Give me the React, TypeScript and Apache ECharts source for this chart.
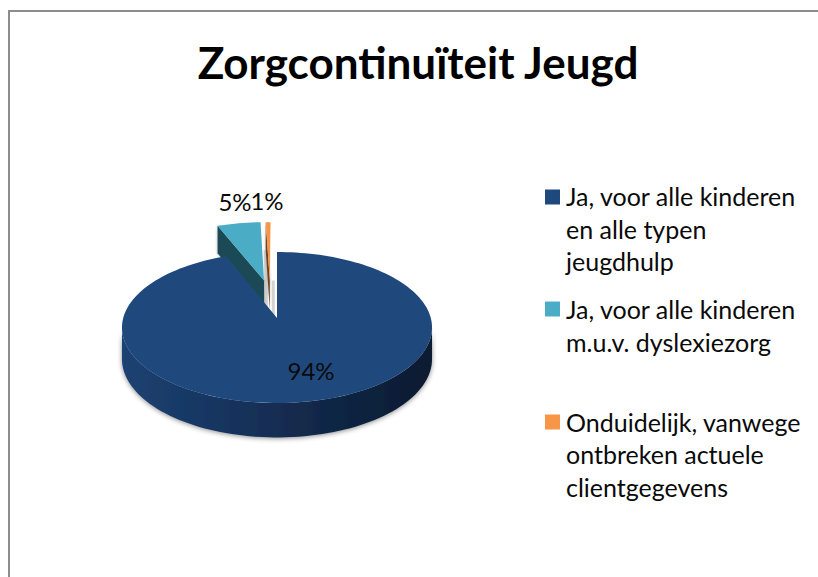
import React, { useEffect, useRef } from "react";
import * as echarts from "echarts";

const titleText = "Zorgcontinuïteit Jeugd";
const categories = [
  ["Ja, voor alle kinderen", "en alle typen", "jeugdhulp"],
  ["Ja, voor alle kinderen", "m.u.v. dyslexiezorg"],
  ["Onduidelijk, vanwege", "ontbreken actuele", "clientgegevens"],
];
const sliceValues = [94, 5.4, 0.6];
const topColors = ["#1F497D", "#4BACC6", "#F79646"];
const faceColors = ["#12294a", "#1F4A57", "#6a4324"];

const FONT = "Lato, Carlito, Calibri, sans-serif";
const CX = 277, AY = 318, BX = 153.8, AYS = 74.3, K = 0.126;
const OFFSETS = [[0, 0], [-0.09, 0.54], [-0.05, 0.54]];
const LABEL_POS = [[311, 370], [235, 201], [267, 200]];
const LEGEND_SWATCH_Y = [189.5, 301.5, 414.5];
const LEGEND_LINE_Y = [[196, 229, 261], [309, 342], [422, 454, 487]];

function project(u: number, v: number, down: number): number[] {
  const w = 1 + K * v;
  const q = v / w;
  return [CX + (BX * u) / w, AY - AYS * q + (down ? 31 - 3 * q : 0)];
}
function rim(deg: number, off: number[], down: number) {
  const t = (deg * Math.PI) / 180;
  return project(Math.sin(t) + off[0], Math.cos(t) + off[1], down);
}
function arc(a: number, b: number, off: number[], down: number) {
  const pts: number[][] = [];
  const n = Math.max(2, Math.ceil(Math.abs(b - a) / 2));
  for (let i = 0; i <= n; i++) pts.push(rim(a + ((b - a) * i) / n, off, down));
  return pts;
}

function renderSlice(params: any, api: any) {
  const i = params.dataIndex;
  const total = sliceValues.reduce((s, x) => s + x, 0);
  let start = 0;
  for (let j = 0; j < i; j++) start += (sliceValues[j] / total) * 360;
  const end = start + (api.value(0) / total) * 360;
  const off = OFFSETS[i];
  const apex = project(off[0], off[1], 0);
  const apexD = project(off[0], off[1], 1);
  const children: any[] = [];
  const z2 = i === 0 ? 10 : 3 - i;
  if (i === 0) {
    const tangentA = 97.2, tangentB = 262.8;
    const top = arc(tangentA, tangentB, off, 0);
    const bot = arc(tangentA, tangentB, off, 1).reverse();
    children.push({
      type: "polygon",
      z2: z2,
      shape: { points: top.concat(bot) },
      style: {
        fill: new echarts.graphic.LinearGradient(0, 0, 1, 0, [
          { offset: 0, color: "#1C4272" },
          { offset: 0.3, color: "#173560" },
          { offset: 0.6, color: "#12294A" },
          { offset: 1, color: "#0A1A30" },
        ]),
        shadowBlur: 5,
        shadowColor: "rgba(0,0,0,0.45)",
        shadowOffsetY: 1,
      },
    });
  } else {
    const outer = rim(start, off, 0);
    const outerD = rim(start, off, 1);
    if (i === 2) {
      // soft grey shading seen either side of the thin exploded slice
      children.push({
        type: "polygon",
        z2: 0,
        shape: {
          points: [
            [outer[0] - 2, outer[1] + 28],
            [outer[0] + 2, outer[1] + 28],
            [apexD[0] - 2, apexD[1] + 8],
            [apexD[0] - 6, apexD[1] + 8],
          ],
        },
        style: { fill: "#d4d4d4" },
      });
      children.push({
        type: "polygon",
        z2: 0,
        shape: {
          points: [
            [apex[0] + 2, apex[1]],
            [apex[0] + 5, apex[1]],
            [apexD[0] + 5, apexD[1] + 8],
            [apexD[0] + 2, apexD[1] + 8],
          ],
        },
        style: { fill: "#d4d4d4" },
      });
    }
    children.push({
      type: "polygon",
      z2: z2,
      shape: { points: [outer, apex, apexD, outerD] },
      style: {
        fill: faceColors[i],
        shadowBlur: 3,
        shadowColor: "rgba(0,0,0,0.3)",
      },
    });
  }
  children.push({
    type: "polygon",
    z2: z2 + 1,
    shape: { points: [apex].concat(arc(start, end, off, 0)) },
    style: { fill: topColors[i] },
  });
  children.push({
    type: "text",
    z2: 20,
    x: LABEL_POS[i][0],
    y: LABEL_POS[i][1],
    style: {
      text: Math.round(api.value(0)) + "%",
      fill: "#0a0a0a",
      fontFamily: FONT,
      fontSize: 24,
      align: "center",
      verticalAlign: "middle",
    },
  });
  return { type: "group", children };
}

export default function App() {
  const ref = useRef<HTMLDivElement>(null);
  useEffect(() => {
    const chart = echarts.init(ref.current!, undefined, { renderer: "svg" });
    const legendGraphics: any[] = [];
    categories.forEach((lines, i) => {
      legendGraphics.push({
        type: "rect",
        shape: { x: 545, y: LEGEND_SWATCH_Y[i], width: 15, height: 15 },
        style: { fill: topColors[i] },
      });
      lines.forEach((line, j) => {
        legendGraphics.push({
          type: "text",
          x: 566,
          y: LEGEND_LINE_Y[i][j],
          style: {
            text: line,
            fill: "#0a0a0a",
            fontFamily: FONT,
            fontSize: 25,
            verticalAlign: "middle",
          },
        });
      });
    });
    chart.setOption({
      animation: false,
      backgroundColor: "#ffffff",
      title: {
        text: titleText,
        left: 413,
        top: 35,
        textAlign: "center",
        textStyle: { fontFamily: FONT, fontSize: 44, fontWeight: "bold", color: "#000000" },
      },
      graphic: [
        { type: "rect", shape: { x: 8, y: 10, width: 810, height: 2 }, style: { fill: "#8c8c8c" } },
        { type: "rect", shape: { x: 8, y: 10, width: 2, height: 567 }, style: { fill: "#8c8c8c" } },
        ...legendGraphics,
      ],
      series: [
        {
          type: "custom",
          coordinateSystem: "none",
          renderItem: renderSlice,
          data: sliceValues.map((v) => [v]),
          silent: true,
        },
      ],
    });
    return () => chart.dispose();
  }, []);
  return <div ref={ref} style={{ position: "fixed", left: 0, top: 0, width: 818, height: 577 }} />;
}
